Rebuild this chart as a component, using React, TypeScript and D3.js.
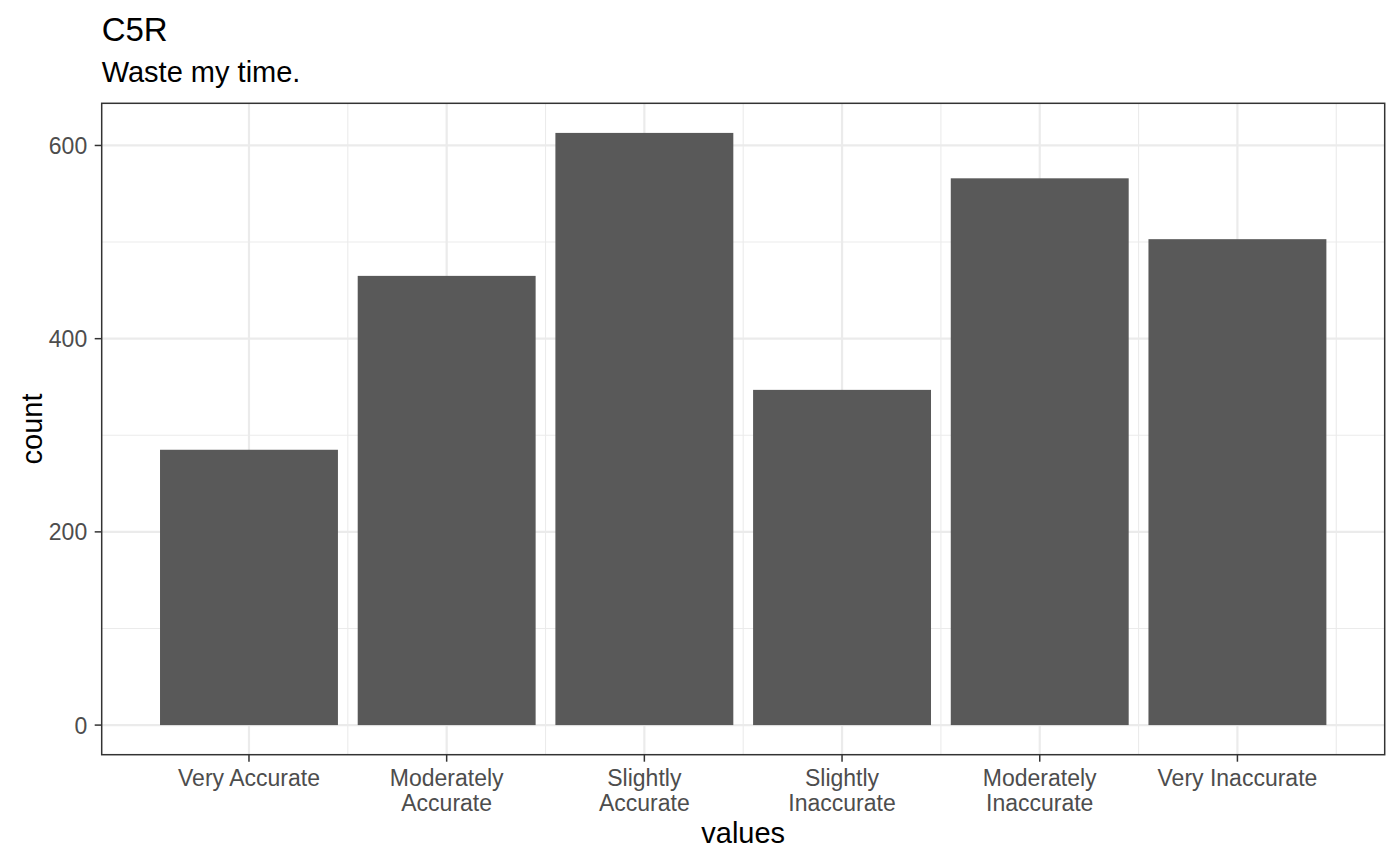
import React, { useEffect, useRef } from 'react';
import * as d3 from 'd3';

const categories = [
  'Very Accurate',
  'Moderately\nAccurate',
  'Slightly\nAccurate',
  'Slightly\nInaccurate',
  'Moderately\nInaccurate',
  'Very Inaccurate',
];
const counts = [285, 465, 613, 347, 566, 503];
const yTicks = [0, 200, 400, 600];
const yMinor = [100, 300, 500];

const FONT = '"Liberation Sans", Arial, Helvetica, sans-serif';

const App: React.FC = () => {
  const svgRef = useRef<SVGSVGElement>(null);

  useEffect(() => {
    if (!svgRef.current) return;
    const svg = d3.select(svgRef.current);
    svg.selectAll('*').remove();

    const W = 1400;
    const H = 865;
    const panel = { left: 101.7, right: 1384.7, top: 103.3, bottom: 754.7 };

    // continuous x (positions 1..n), 5% expansion like ggplot
    const n = categories.length;
    const lo = 0.55, hi = n + 0.45;
    const pad = (hi - lo) * 0.05;
    const x = d3.scaleLinear()
      .domain([lo - pad, hi + pad])
      .range([panel.left, panel.right]);

    const yMax = d3.max(counts) as number;
    const y = d3.scaleLinear()
      .domain([-yMax * 0.05, yMax * 1.05])
      .range([panel.bottom, panel.top]);

    svg.attr('width', W).attr('height', H);

    svg.append('rect')
      .attr('width', W).attr('height', H)
      .attr('fill', '#fff');

    const xPos = d3.range(1, n + 1);
    const xMinor = d3.range(1.5, n + 1, 1);

    // Grid
    const grid = svg.append('g');
    grid.selectAll('.ymin')
      .data(yMinor)
      .enter()
      .append('line')
      .attr('x1', panel.left).attr('x2', panel.right)
      .attr('y1', d => y(d)).attr('y2', d => y(d))
      .attr('stroke', '#EBEBEB').attr('stroke-width', 1.1);
    grid.selectAll('.xmin')
      .data(xMinor)
      .enter()
      .append('line')
      .attr('x1', d => x(d)).attr('x2', d => x(d))
      .attr('y1', panel.top).attr('y2', panel.bottom)
      .attr('stroke', '#EBEBEB').attr('stroke-width', 1.1);
    grid.selectAll('.ymaj')
      .data(yTicks)
      .enter()
      .append('line')
      .attr('x1', panel.left).attr('x2', panel.right)
      .attr('y1', d => y(d)).attr('y2', d => y(d))
      .attr('stroke', '#EBEBEB').attr('stroke-width', 2.2);
    grid.selectAll('.xmaj')
      .data(xPos)
      .enter()
      .append('line')
      .attr('x1', d => x(d)).attr('x2', d => x(d))
      .attr('y1', panel.top).attr('y2', panel.bottom)
      .attr('stroke', '#EBEBEB').attr('stroke-width', 2.2);

    // Bars
    const bw = 0.9;
    svg.append('g')
      .selectAll('rect')
      .data(counts)
      .enter()
      .append('rect')
      .attr('x', (_, i) => x(i + 1 - bw / 2))
      .attr('width', x(1 + bw / 2) - x(1 - bw / 2))
      .attr('y', d => y(d))
      .attr('height', d => y(0) - y(d))
      .attr('fill', '#595959');

    // Panel border
    svg.append('rect')
      .attr('x', panel.left).attr('y', panel.top)
      .attr('width', panel.right - panel.left)
      .attr('height', panel.bottom - panel.top)
      .attr('fill', 'none')
      .attr('stroke', '#333333')
      .attr('stroke-width', 1.5);

    // Y axis ticks + labels
    const yAxis = svg.append('g');
    yAxis.selectAll('line')
      .data(yTicks)
      .enter()
      .append('line')
      .attr('x1', panel.left - 7).attr('x2', panel.left)
      .attr('y1', d => y(d)).attr('y2', d => y(d))
      .attr('stroke', '#333333').attr('stroke-width', 1.5);
    yAxis.selectAll('text')
      .data(yTicks)
      .enter()
      .append('text')
      .attr('x', panel.left - 14.5)
      .attr('y', d => y(d) + 8.5)
      .attr('text-anchor', 'end')
      .style('font-family', FONT)
      .style('font-size', '23px')
      .style('fill', '#4D4D4D')
      .text(d => d);

    // X axis ticks + labels
    const xAxis = svg.append('g');
    xAxis.selectAll('line')
      .data(xPos)
      .enter()
      .append('line')
      .attr('x1', d => x(d)).attr('x2', d => x(d))
      .attr('y1', panel.bottom).attr('y2', panel.bottom + 7)
      .attr('stroke', '#333333').attr('stroke-width', 1.5);
    const labels = xAxis.selectAll('text')
      .data(categories)
      .enter()
      .append('text')
      .attr('text-anchor', 'middle')
      .style('font-family', FONT)
      .style('font-size', '23px')
      .style('fill', '#4D4D4D');
    labels.each(function (d, i) {
      const t = d3.select(this);
      d.split('\n').forEach((line, j) => {
        t.append('tspan')
          .attr('x', x(i + 1))
          .attr('y', 786 + j * 24.5)
          .text(line);
      });
    });

    // Axis titles
    svg.append('text')
      .attr('x', (panel.left + panel.right) / 2)
      .attr('y', 843)
      .attr('text-anchor', 'middle')
      .style('font-family', FONT)
      .style('font-size', '29px')
      .style('fill', '#000')
      .text('values');

    svg.append('text')
      .attr('transform', `translate(42, ${(panel.top + panel.bottom) / 2}) rotate(-90)`)
      .attr('text-anchor', 'middle')
      .style('font-family', FONT)
      .style('font-size', '29px')
      .style('fill', '#000')
      .text('count');

    // Title + subtitle
    svg.append('text')
      .attr('x', panel.left)
      .attr('y', 40.7)
      .style('font-family', FONT)
      .style('font-size', '33px')
      .style('fill', '#000')
      .text('C5R');

    svg.append('text')
      .attr('x', panel.left)
      .attr('y', 81.7)
      .style('font-family', FONT)
      .style('font-size', '29px')
      .style('fill', '#000')
      .text('Waste my time.');
  }, []);

  return (
    <svg
      ref={svgRef}
      style={{ position: 'absolute', left: 0, top: 0, display: 'block' }}
    ></svg>
  );
};

export default App;
